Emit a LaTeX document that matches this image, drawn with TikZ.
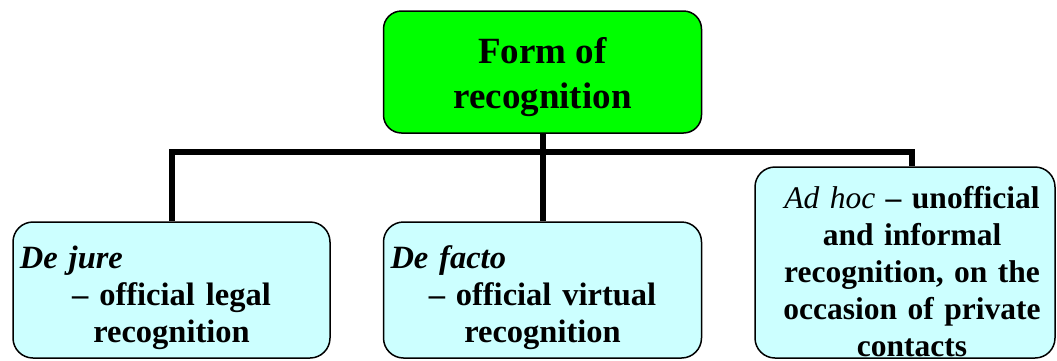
\documentclass[tikz,border=0pt]{standalone}
\usepackage{fontspec}
\setmainfont{Liberation Serif}

\begin{document}
\begin{tikzpicture}[x=1pt,y=-1pt,
    topbox/.style={draw=black, line width=1.5pt, fill=formgreen, rounded corners=18pt,
        minimum width=318pt, minimum height=122pt, inner sep=0pt, align=center,
        font=\bfseries\fontsize{37}{45}\selectfont},
    kindbox/.style={draw=black, line width=1.5pt, fill=kindcyan, rounded corners=20pt,
        inner xsep=3pt, inner ysep=0pt, align=center,
        font=\bfseries\fontsize{32.5}{37}\selectfont},
    link/.style={line width=6pt, draw=black}]

    % Colors for the boxes
    \definecolor{formgreen}{RGB}{0,255,0}
    \definecolor{kindcyan}{RGB}{204,255,255}

    \useasboundingbox (0,0) rectangle (1057,360);
    \clip (0,0) rectangle (1057,360);

    % Form of recognition
    \node[topbox] (form) at (542.5,72) {\rule{0pt}{37pt}Form of\\
        recognition\rule[-10pt]{0pt}{10pt}};

    % De jure box
    \node[kindbox, text width=311pt, minimum height=136pt] (dejure) at (171.5,290)
        {\rule{0pt}{40pt}\hspace*{4pt}\textit{De jure}\hfill\null\\
        -- official legal\\
        recognition\rule[-10pt]{0pt}{10pt}};

    % De facto box
    \node[kindbox, text width=312pt, minimum height=136pt] (defacto) at (542.5,290)
        {\rule{0pt}{40pt}\hspace*{4pt}\textit{De facto}\hfill\null\\
        -- official virtual\\
        recognition\rule[-10pt]{0pt}{10pt}};

    % Ad hoc box
    \node[kindbox, text width=294pt, minimum height=191pt,
        font=\bfseries\fontsize{31.5}{37}\selectfont] (adhoc) at (905,262.5)
        {\rule{0pt}{41pt}\hspace*{14pt}{\mdseries\itshape Ad hoc} -- unofficial\\
        \hspace*{14pt}and informal\\
        \hspace*{14pt}recognition, on the\\
        \hspace*{14pt}occasion of private\\
        \hspace*{14pt}contacts\rule[-2pt]{0pt}{2pt}};

    % Connectors
    \draw[link] (form.south) -- ++(0,18) -| (dejure.north);
    \draw[link] (form.south) -- (defacto.north);
    \draw[link] (form.south) -- ++(0,18) -| ([xshift=6.5pt]adhoc.north);

\end{tikzpicture}
\end{document}
